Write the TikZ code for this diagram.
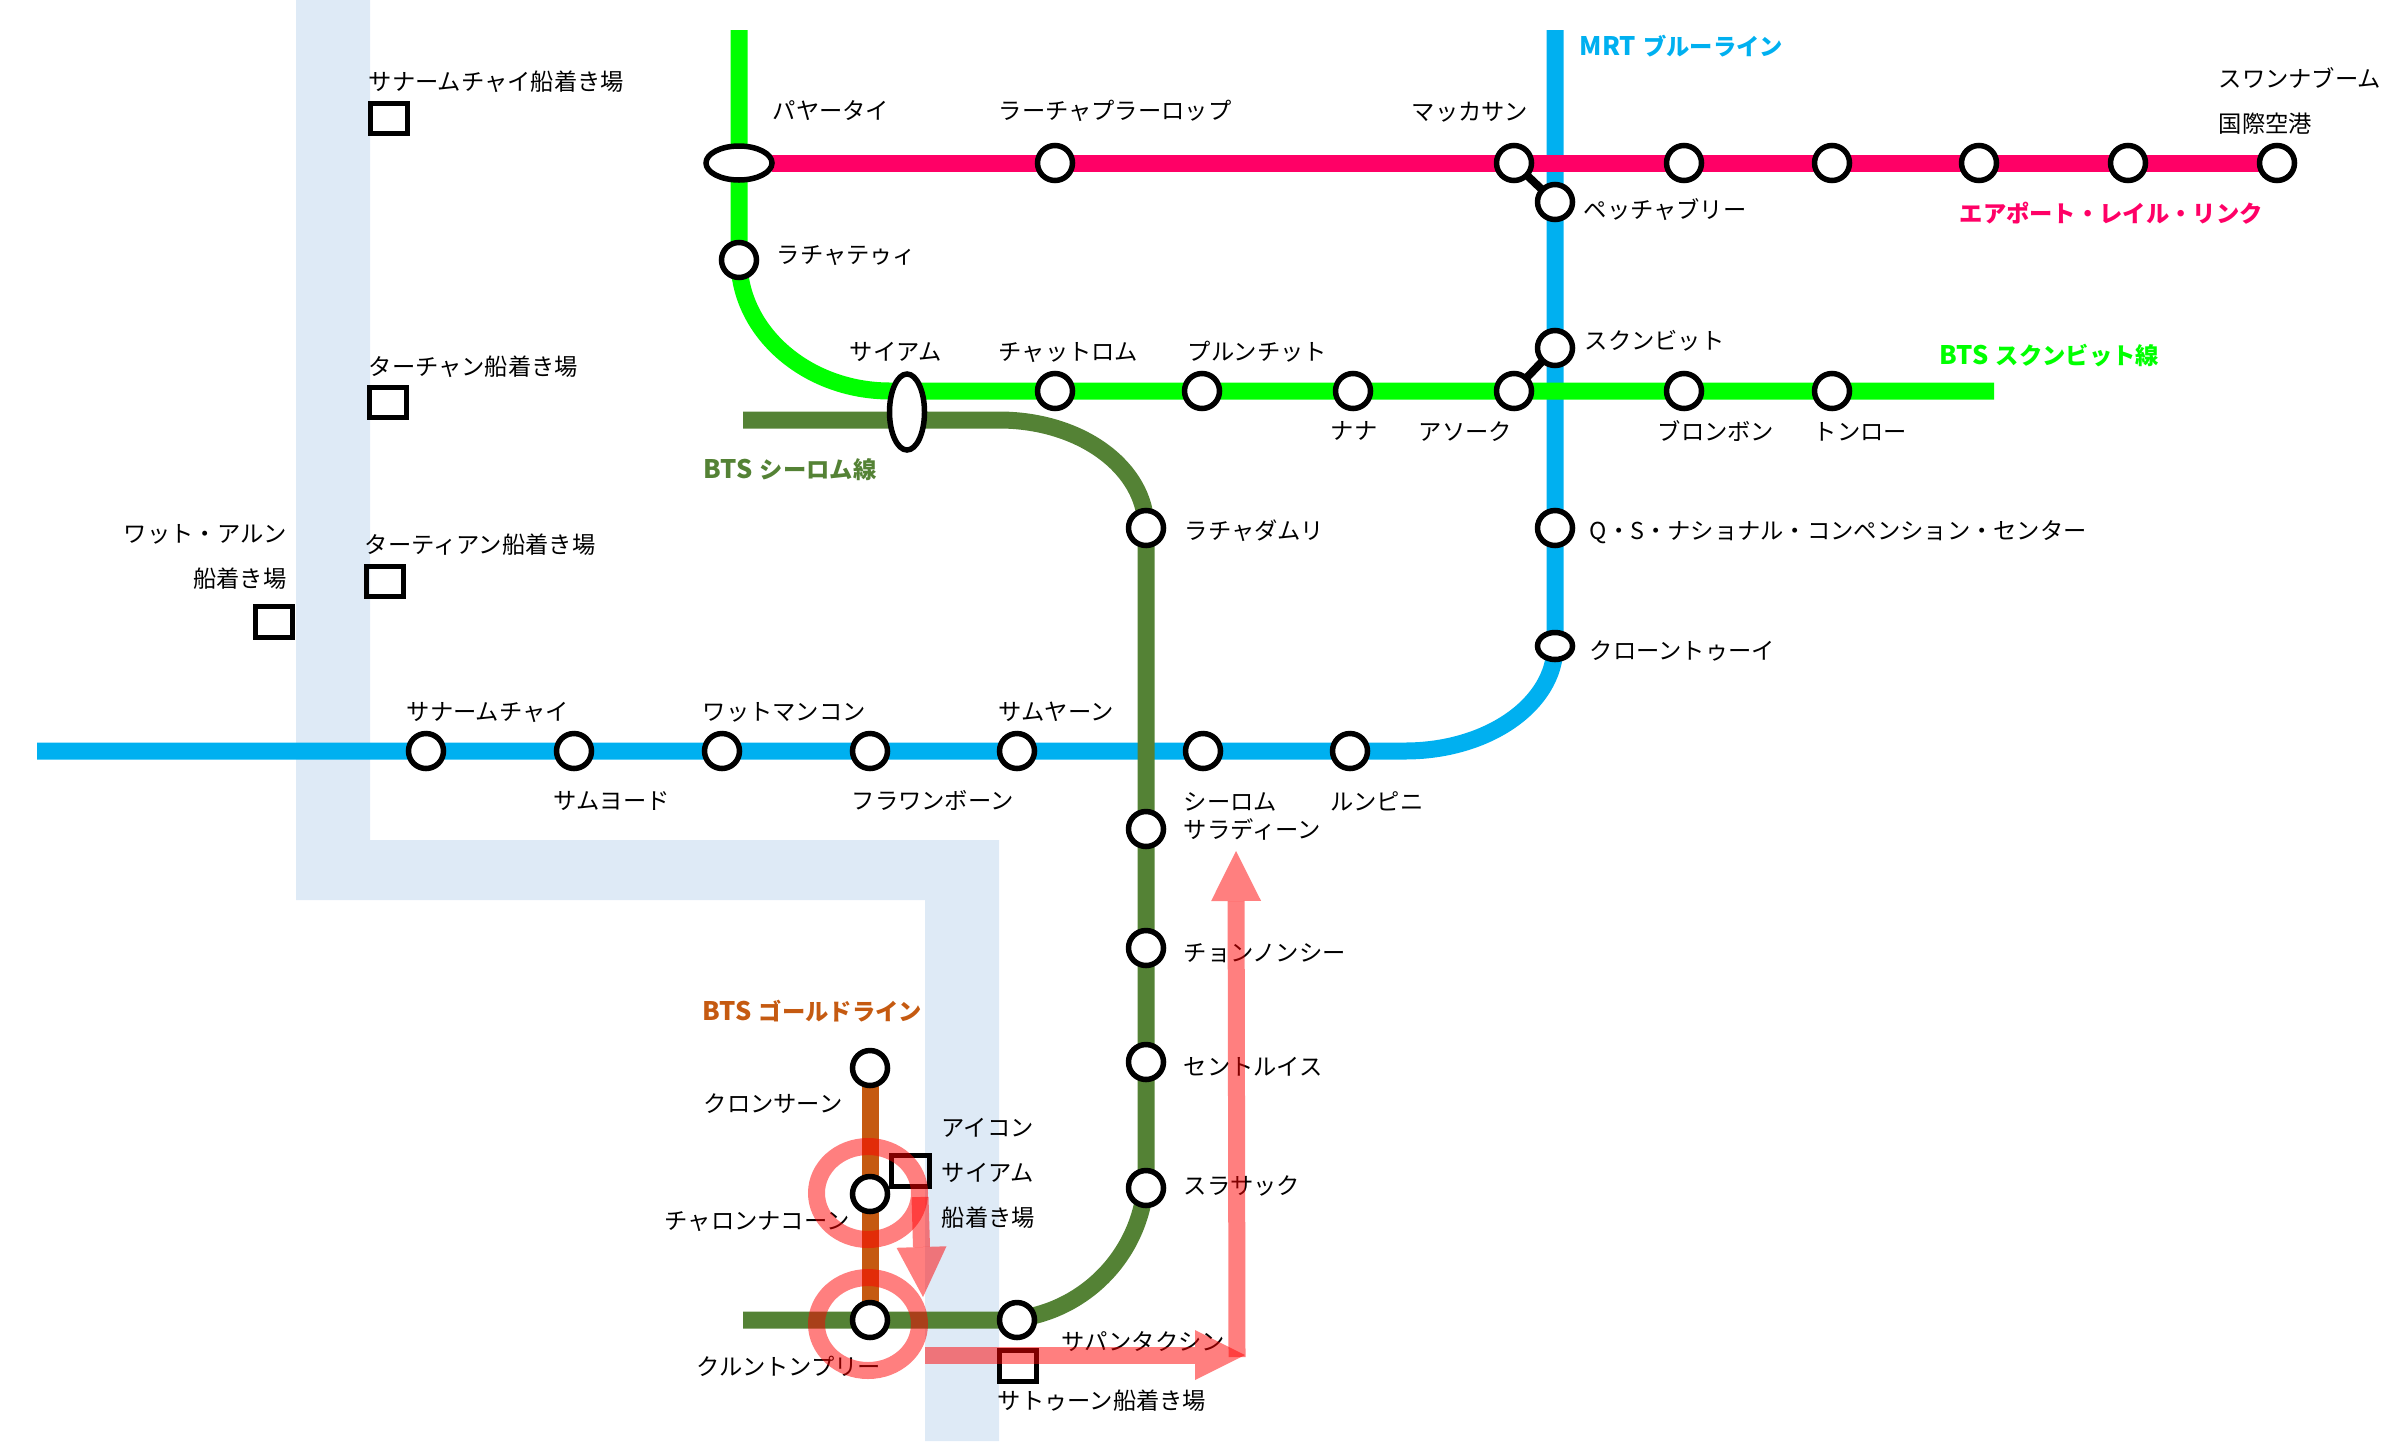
\documentclass[tikz,border=0pt]{standalone}
\usepackage{fontspec}
\setmainfont{Noto Sans CJK JP}
\usetikzlibrary{positioning, arrows.meta, shapes, backgrounds}
\definecolor{river}{HTML}{DEEAF6}
\definecolor{mrtblue}{HTML}{00B0F0}
\definecolor{sukhumvitgreen}{HTML}{00FF00}
\definecolor{silomgreen}{HTML}{548235}
\definecolor{goldline}{HTML}{C55A11}
\definecolor{airportpink}{HTML}{FF0066}
\newcommand{\linecode}[1]{{\fontsize{25.5}{25}\selectfont #1}\hspace{2pt}}
\tikzset{
station/.style = {ellipse, draw, fill = white, line width = 5.5pt, inner sep = 0pt,
   outer sep = 0pt, minimum width = 35pt, minimum height = 35pt},
pier/.style = {rectangle, draw, line width = 5pt, inner sep = 0pt,
   minimum width = 37.5pt, minimum height = 30.5pt},
stationname/.style = {anchor = west, inner sep = 0pt, text height = 20pt, text depth = 4pt,
   xshift = -1.5pt, font = \fontsize{23.3}{25}\selectfont},
linename/.style = {stationname, font = \fontsize{23.3}{25}\selectfont\bfseries},
railway/.style = {line width = 17pt},
transfer/.style = {line width = 8pt},
landmark/.style = {ellipse, draw = red, draw opacity = 0.5, line width = 17pt, inner sep = 0pt,
   minimum width = 103pt, minimum height = 93pt},
route/.style = {-{Triangle[length = 50pt, width = 50pt, line width = 0pt]}, line width = 17pt,
   red, opacity = 0.5}
}

\begin{document}
\begin{tikzpicture}[x = 1pt, y = -1pt, on grid]

\useasboundingbox (0,0) rectangle (2406,1441);

%% MRT stations
\node [station] (sanam) at (426,751) {};
\node [station] (samyot) [right = 148pt of sanam] {};
\node [station] (wat) [right = 148pt of samyot] {};
\node [station] (hualamphong) [right = 148pt of wat] {};
\node [station] (samyan) [right = 147pt of hualamphong] {};
\node [station] (silom) [right = 186pt of samyan] {};
\node [station] (lumphini) [right = 147pt of silom] {};
\node [station] (phetchaburi) at (1555,202) {};
\node [station] (sukhumvit) [below = 146pt of phetchaburi] {};
\node [station] (qsncc) [below = 180pt of sukhumvit] {};
\node [station, minimum height = 27pt] (khlongtoei) [below = 118pt of qsncc] {};

%% Airport link stations
\node [station, minimum width = 66pt, minimum height = 34pt] (phayathai) at (739,163) {};
\node [station] (ratchaprarop) [right = 316pt of phayathai] {};
\node [station] (makkasan) [right = 459pt of ratchaprarop] {};
\node [station] (ramkhamhaeng) [right = 170pt of makkasan] {};
\node [station] (huamak) [right = 148pt of ramkhamhaeng] {};
\node [station] (banthap) [right = 147pt of huamak] {};
\node [station] (latkrabang) [right = 149pt of banthap] {};
\node [station] (suvarnabhumi) [right = 149pt of latkrabang] {};

%% BTS Sukhumvit stations
\node [station] (ratchathewi) [below = 97pt of phayathai] {};
\node [station] (chitlom) [below = 228pt of ratchaprarop] {};
\node [station] (phloenchit) [right = 147pt of chitlom] {};
\node [station] (nana) [right = 151pt of phloenchit] {};
\node [station] (asok) [right = 161pt of nana] {};
\node [station] (phromphong) [right = 170pt of asok] {};
\node [station] (thonglo) [right = 148pt of phromphong] {};
\node [station, minimum height = 76pt] (siam) at (907,412) {};

%% BTS Silom stations
\node [station] (ratchadamri) at (1146,528) {};
\node [station] (saladaeng) [below = 301pt of ratchadamri] {};
\node [station] (chongnonsi) [below = 119pt of saladaeng] {};
\node [station] (saintlouis) [below = 114pt of chongnonsi] {};
\node [station] (surasak) [below = 126pt of saintlouis] {};
\node [station] (saphan) at (1017,1320) {};
\node [station] (krungthon) [left = 147pt of saphan] {};

%% BTS Gold stations
\node [station] (charoen) [above = 126pt of krungthon] {};
\node [station] (khlongsan) [above = 126pt of charoen] {};

%% Line ends
\coordinate (mrtW) at (37,751);
\coordinate (mrtE) at (1405,751);
\coordinate (mrtN) at (1555,30);
\coordinate (sukN) at (739,30);
\coordinate (sukS) at (890,391);
\coordinate (sukE) at (1994,391);
\coordinate (silW) at (743,420);
\coordinate (silE) at (999,420);
\coordinate (silB) at (1146,1172);
\coordinate (silD) at (998,1320);
\coordinate (silSW) at (743,1320);

%% River and lines
\begin{scope}[on background layer]
\fill [river] (296,0) -- (370,0) -- (370,840) -- (999,840) -- (999,1441) -- (925,1441)
   -- (925,900) -- (296,900) -- cycle;
\draw [railway, mrtblue] (mrtW) -- (sanam) -- (samyot) -- (wat) -- (hualamphong) -- (samyan)
   -- (silom) -- (lumphini) -- (mrtE) .. controls +(83,0) and +(0,58) .. (khlongtoei.center)
   -- (qsncc) -- (sukhumvit) -- (phetchaburi) -- (mrtN);
\draw [railway, goldline] (khlongsan) -- (charoen) -- (krungthon);
\draw [railway, silomgreen] (silW) -- (silE) .. controls +(82,0) and +(0,-60) .. (ratchadamri.center)
   -- (saladaeng) -- (chongnonsi) -- (saintlouis) -- (silB)
   to [out = 270, in = 0] (silD) -- (krungthon) -- (silSW);
\draw [railway, sukhumvitgreen] (sukN) -- (phayathai) -- (ratchathewi.center)
   .. controls +(0,72) and +(-83,0) .. (sukS) -- (chitlom) -- (phloenchit) -- (nana) -- (asok)
   -- (phromphong) -- (thonglo) -- (sukE);
\draw [railway, airportpink] (phayathai) -- (ratchaprarop) -- (makkasan) -- (ramkhamhaeng)
   -- (huamak) -- (banthap) -- (latkrabang) -- (suvarnabhumi);
\draw [transfer] (makkasan) -- (phetchaburi);
\draw [transfer] (asok) -- (sukhumvit);
\end{scope}

%% Piers
\node [pier] (sanampier) at (389,118.5) {};
\node [pier] (thachang) at (388,402.5) {};
\node [pier] (thatien) at (385,581.5) {};
\node [pier] (watarun) at (274,622) {};
\node [pier] (iconpier) at (910.5,1171) {};
\node [pier] (sathon) at (1018,1366) {};

%% Pier names
\node [stationname] (sanampiername) at (370,82) {サナームチャイ船着き場};
\node [stationname] (thachangname) at (370,367) {ターチャン船着き場};
\node [stationname] (thatienname) at (366,545) {ターティアン船着き場};
\node [stationname, anchor = east] (watarunname) at (288,534) {ワット・アルン};
\node [stationname, anchor = east] (watarunpier) at (288,579) {船着き場};
\node [stationname] (iconname) at (943,1128) {アイコン};
\node [stationname] (iconname2) at (943,1173) {サイアム};
\node [stationname] (iconpiername) at (943,1218) {船着き場};
\node [stationname] (sathonname) at (999,1401) {サトゥーン船着き場};

%% Station names
\node [stationname] (sanamname) at (408,712) {サナームチャイ};
\node [stationname] (samyotname) at (555,801) {サムヨード};
\node [stationname] (watname) at (704,712) {ワットマンコン};
\node [stationname] (hualamphongname) at (853,801) {フラワンボーン};
\node [stationname] (samyanname) at (1000,712) {サムヤーン};
\node [stationname] (silomname) at (1185,802) {シーロム};
\node [stationname] (saladaengname) at (1185,830) {サラディーン};
\node [stationname] (lumphininame) at (1332,802) {ルンピニ};
\node [stationname] (khlongtoeiname) at (1591,651) {クローントゥーイ};
\node [stationname] (qsnccname) at (1591,531) {Q・S・ナショナル・コンペンション・センター};
\node [stationname] (sukhumvitname) at (1586,341) {スクンビット};
\node [stationname] (phetchaburiname) at (1585,210) {ペッチャブリー};
\node [stationname] (phayathainame) at (774,111) {パヤータイ};
\node [stationname] (ratchapraropname) at (1000,111) {ラーチャプラーロップ};
\node [stationname] (makkasanname) at (1413,112) {マッカサン};
\node [stationname] (suvarnabhuminame) at (2220,79) {スワンナブーム};
\node [stationname] (suvarnabhumipier) at (2220,124) {国際空港};
\node [stationname] (ratchathewiname) at (778,255) {ラチャテゥィ};
\node [stationname] (siamname) at (851,352) {サイアム};
\node [stationname] (chitlomname) at (1000,352) {チャットロム};
\node [stationname] (phloenchitname) at (1189,352) {プルンチット};
\node [stationname] (nananame) at (1332,431) {ナナ};
\node [stationname] (asokname) at (1420,432) {アソーク};
\node [stationname] (phromphongname) at (1659,432) {ブロンボン};
\node [stationname] (thongloname) at (1815,432) {トンロー};
\node [stationname] (ratchadamriname) at (1186,531) {ラチャダムリ};
\node [stationname] (chongnonsiname) at (1185,953) {チョンノンシー};
\node [stationname] (saintlouisname) at (1185,1067) {セントルイス};
\node [stationname] (surasakname) at (1185,1186) {スラサック};
\node [stationname] (saphanname) at (1063,1342) {サパンタクシン};
\node [stationname] (krungthonname) at (698,1367) {クルントンプリー};
\node [stationname] (charoenname) at (666,1221) {チャロンナコーン};
\node [stationname] (khlongsanname) at (705,1104) {クロンサーン};

%% Line names
\node [linename, text = mrtblue] (mrtname) at (1581,47) {\linecode{MRT} ブルーライン};
\node [linename, text = airportpink] (airportname) at (1961,214) {エアポート・レイル・リンク};
\node [linename, text = sukhumvitgreen] (sukname) at (1941,356) {\linecode{BTS} スクンビット線};
\node [linename, text = silomgreen] (silname) at (705,470) {\linecode{BTS} シーロム線};
\node [linename, text = goldline] (goldname) at (704,1012) {\linecode{BTS} ゴールドライン};

%% Route
\node [landmark] (ringcharoen) at (868,1193) {};
\node [landmark] (ringkrungthon) at (868,1324) {};
\coordinate (legaS) at (920,1197);
\coordinate (legaE) at (923,1297);
\coordinate (legbS) at (925,1355);
\coordinate (legbE) at (1245,1355);
\coordinate (legcS) at (1237,1357);
\coordinate (legcE) at (1236,851);
\draw [route] (legaS) -- (legaE);
\draw [route] (legbS) -- (legbE);
\draw [route] (legcS) -- (legcE);

\end{tikzpicture}
\end{document}
